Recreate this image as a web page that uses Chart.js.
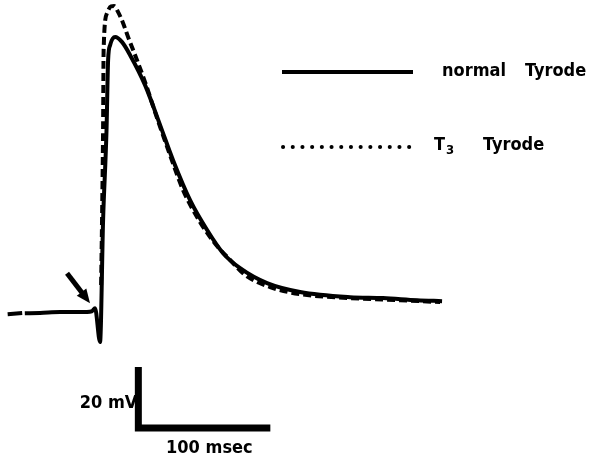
<!DOCTYPE html>
<html>
<head>
<meta charset="utf-8">
<script src="https://cdn.jsdelivr.net/npm/chart.js@4.4.0/dist/chart.umd.min.js"></script>
<style>
  html, body { margin: 0; padding: 0; background: #fff; }
  canvas { display: block; }
</style>
</head>
<body>
<canvas id="ap-chart" width="594" height="461"></canvas>
<script>
// time (msec, 0 = stimulus) and membrane potential (mV)
var normalTime = [-70, -59, -58, -57, -45.5, -30.3, -15.2, -6.1, -3.8, 0, 2.3, 4.9, 6.1, 7.6, 11.4, 16.7, 22.7, 34.1, 45.5, 55.3, 68.2, 81.1, 93.2, 106.1, 126.5, 151.5, 189.4, 214.4, 240.2, 259.1];
var normalVolt = [-80.7, -80.3, null, -80.4, -80.3, -80, -80, -79.7, -78.7, -89.8, -49.8, -20.3, 2.6, 7.5, 10.2, 8.5, 4.3, -5.6, -18.7, -30.2, -43.3, -53.1, -60.7, -65.6, -70.5, -73.4, -75.1, -75.4, -76.1, -76.4];

var t3Time = [0.8, 1.5, 2.3, 2.7, 5.3, 8.3, 10.6, 13.6, 17.4, 21.2, 26.5, 34.1, 43.2, 53, 62.9, 75.8, 87.1, 98.5, 109.8, 128.8, 151.5, 189.4, 227.3, 257.6];
var t3Volt = [-71.1, -49.8, -19.3, 5.9, 18, 20.2, 20.3, 18.4, 14.8, 10.2, 4.3, -4.6, -16.4, -28.5, -40, -50.5, -57.5, -62.9, -67.8, -71.8, -74.1, -75.4, -76.1, -76.7];

// calibration bars: 100 msec, 20 mV
var scaleTime = [29, 29, 129];
var scaleVolt = [-98, -118, -118];

function toPoints(xs, ys) {
    return xs.map(function (x, i) { return { x: x, y: ys[i] }; });
}

var FONT = '"DejaVu Sans Condensed", "DejaVu Sans", sans-serif';

// legend, arrow and calibration labels
var extras = {
    id: 'extras',
    afterDraw: function (chart) {
        var ctx = chart.ctx;
        var xs = chart.scales.x, ys = chart.scales.y;
        ctx.save();
        ctx.strokeStyle = '#000';
        ctx.fillStyle = '#000';

        // legend
        ctx.lineWidth = 4;
        ctx.lineCap = 'butt';
        ctx.beginPath();
        ctx.moveTo(282, 72);
        ctx.lineTo(413, 72);
        ctx.stroke();

        ctx.lineCap = 'round';
        ctx.setLineDash([0.1, 9.6]);
        ctx.beginPath();
        ctx.moveTo(283, 147);
        ctx.lineTo(411, 147);
        ctx.stroke();
        ctx.setLineDash([]);

        ctx.font = 'bold 18px ' + FONT;
        ctx.textBaseline = 'middle';
        ctx.textAlign = 'left';
        ctx.fillText('normal', 442, 71);
        ctx.fillText('Tyrode', 525, 71);
        ctx.fillText('T', 434, 145);
        ctx.fillText('Tyrode', 483, 145);
        ctx.font = 'bold 13px ' + FONT;
        ctx.fillText('3', 446, 151);

        // arrow towards stimulus
        var sx = xs.getPixelForValue(normalTime[8]);
        var sy = ys.getPixelForValue(normalVolt[8]);
        var tipX = sx - 5, tipY = sy - 5;
        var tailX = tipX - 23, tailY = tipY - 30;
        var ang = Math.atan2(tipY - tailY, tipX - tailX);
        ctx.lineWidth = 5;
        ctx.lineCap = 'butt';
        ctx.beginPath();
        ctx.moveTo(tailX, tailY);
        ctx.lineTo(tipX - 10 * Math.cos(ang), tipY - 10 * Math.sin(ang));
        ctx.stroke();
        ctx.beginPath();
        ctx.moveTo(tipX, tipY);
        ctx.lineTo(tipX - 14 * Math.cos(ang) + 6 * Math.sin(ang), tipY - 14 * Math.sin(ang) - 6 * Math.cos(ang));
        ctx.lineTo(tipX - 14 * Math.cos(ang) - 6 * Math.sin(ang), tipY - 14 * Math.sin(ang) + 6 * Math.cos(ang));
        ctx.closePath();
        ctx.fill();

        // calibration labels
        var bx = xs.getPixelForValue(scaleTime[1]);
        var byTop = ys.getPixelForValue(scaleVolt[0]);
        var byBot = ys.getPixelForValue(scaleVolt[1]);
        var bxEnd = xs.getPixelForValue(scaleTime[2]);
        ctx.font = 'bold 18px ' + FONT;
        ctx.textAlign = 'right';
        ctx.fillText('20 mV', bx - 1, (byTop + byBot) / 2 + 6);
        ctx.textAlign = 'center';
        ctx.fillText('100 msec', (bx + bxEnd) / 2 + 5, byBot + 20);
        ctx.restore();
    }
};

new Chart(document.getElementById('ap-chart'), {
    type: 'line',
    data: {
        datasets: [
            {
                label: 'T3 Tyrode',
                data: toPoints(t3Time, t3Volt),
                borderColor: '#000',
                borderWidth: 4,
                borderDash: [8, 4],
                pointRadius: 0,
                cubicInterpolationMode: 'monotone',
                fill: false
            },
            {
                label: 'normal Tyrode',
                data: toPoints(normalTime, normalVolt),
                borderColor: '#000',
                borderWidth: 4,
                pointRadius: 0,
                cubicInterpolationMode: 'monotone',
                spanGaps: false,
                fill: false
            },
            {
                label: 'calibration',
                data: toPoints(scaleTime, scaleVolt),
                borderColor: '#000',
                borderWidth: 7,
                borderJoinStyle: 'miter',
                pointRadius: 0,
                tension: 0,
                fill: false
            }
        ]
    },
    options: {
        responsive: false,
        animation: false,
        layout: { padding: 0 },
        plugins: {
            legend: { display: false },
            tooltip: { enabled: false }
        },
        scales: {
            x: { type: 'linear', display: false, min: -75.8, max: 374.2 },
            y: { type: 'linear', display: false, min: -128.8, max: 22.3 }
        }
    },
    plugins: [extras]
});
</script>
</body>
</html>
